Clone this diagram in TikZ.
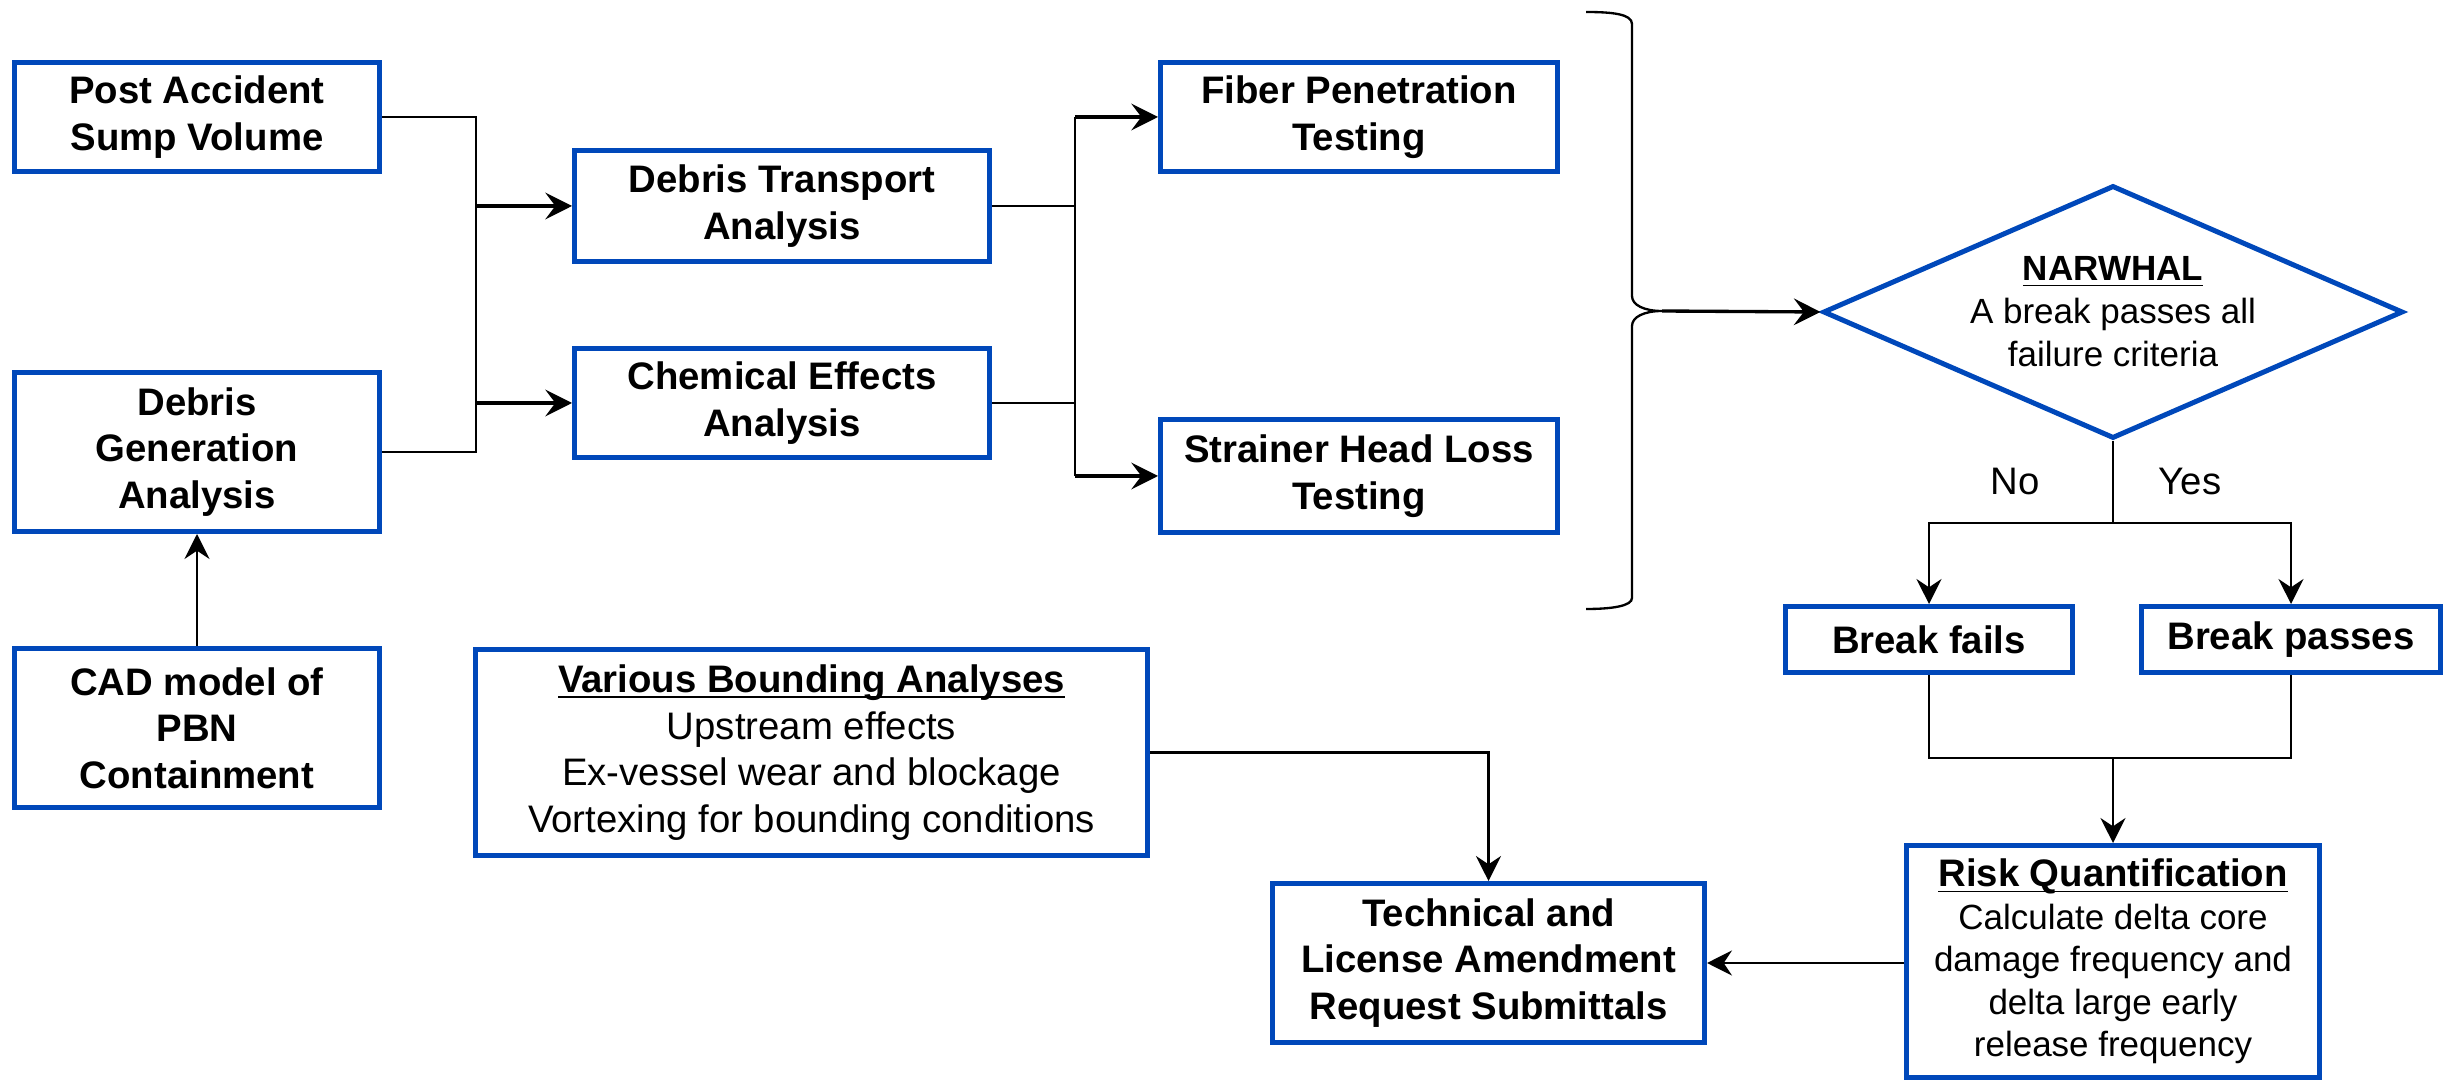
\documentclass[tikz,border=0pt]{standalone}
\usepackage{fontspec}
\setmainfont{Liberation Sans}
\usetikzlibrary{arrows.meta,shapes.geometric}
\definecolor{boxblue}{RGB}{0,72,186}
\newcommand\ultext[1]{\underline{\raisebox{0pt}[\height][0pt]{#1}}}

\begin{document}
\begin{tikzpicture}[x=0.3pt, y=-0.3pt,
  box/.style={draw=boxblue, line width=1.5pt, align=center, inner sep=1pt, font=\bfseries\fontsize{11.5}{14}\selectfont},
  note/.style={box, font=\fontsize{11.5}{14}\selectfont},
  small/.style={box, font=\fontsize{10.5}{12.75}\selectfont},
  flowarrow/.style={line width=1pt, -{Stealth[length=8pt, width=8pt, inset=3pt]}},
  conn/.style={line width=0.7pt},
  connarrow/.style={conn, -{Stealth[length=7.5pt, width=7.5pt, inset=2.5pt]}}]
\useasboundingbox (0,0) rectangle (2445,1081);
\node[box, minimum width=109.5pt, minimum height=32.7pt] (post) at (197,117) {Post Accident\\Sump Volume};
\node[box, minimum width=109.5pt, minimum height=47.7pt] (debgen) at (197,452) {Debris\\Generation\\Analysis};
\node[box, minimum width=109.5pt, minimum height=47.7pt] (cad) at (197,728) {CAD model of\\PBN\\Containment};
\node[box, minimum width=124.5pt, minimum height=33.3pt] (transport) at (782,206) {Debris Transport\\Analysis};
\node[box, minimum width=124.5pt, minimum height=32.7pt] (chem) at (782,403) {Chemical Effects\\Analysis};
\node[box, minimum width=119.1pt, minimum height=32.7pt] (fiber) at (1359,117) {Fiber Penetration\\Testing};
\node[box, minimum width=119.1pt, minimum height=33.9pt] (strainer) at (1359,476) {Strainer Head Loss\\Testing};
\node[note, minimum width=201.6pt, minimum height=61.8pt] (bounding) at (811.5,752.5) {\ultext{\textbf{Various Bounding Analyses}}\\Upstream effects\\Ex-vessel wear and blockage\\Vortexing for bounding conditions};
\node[shape=diamond, draw=boxblue, line width=1.5pt, minimum width=174pt, minimum height=75.9pt, inner sep=0pt,
  label={[name=narwhaltext, align=center, font=\fontsize{10.5}{12.9}\selectfont]center:{\ultext{\textbf{NARWHAL}}\\A break passes all\\failure criteria}}] (narwhal) at (2113,312) {};
\node[font=\fontsize{11.5}{14}\selectfont] (no) at (2015,482) {No};
\node[font=\fontsize{11.5}{14}\selectfont] (yes) at (2190,482) {Yes};
\node[box, minimum width=86.1pt, minimum height=19.8pt] (fails) at (1929,639.5) {Break fails};
\node[box, minimum width=89.7pt, minimum height=19.8pt] (passes) at (2291,639.5) {Break passes};
\node[small, minimum width=123.9pt, minimum height=69.6pt] (risk) at (2113,961.5) {\ultext{\textbf{\fontsize{11.5}{12.75}\selectfont Risk Quantification}}\\Calculate delta core\\damage frequency and\\delta large early\\release frequency};
\node[box, minimum width=129.6pt, minimum height=47.7pt] (tech) at (1488.5,963) {Technical and\\License Amendment\\Request Submittals};
\draw[conn] (1586,12) .. controls (1612,12) and (1632,14) .. (1632,24) -- (1632,296) .. controls (1632,305) and (1644,311) .. (1662,311) .. controls (1644,311) and (1632,317) .. (1632,326) -- (1632,598) .. controls (1632,606) and (1612,609) .. (1586,609);
\coordinate (brtip) at (1662,311);
\coordinate (jl) at (476,0);
\coordinate (jr) at (1075,0);
\coordinate (split) at (2113,523);
\coordinate (merge) at (2113,758);
\draw[conn] (post.east) -- (post.east -| jl) -- (debgen.east -| jl) -- (debgen.east);
\draw[flowarrow] (transport.west -| jl) -- (transport.west);
\draw[flowarrow] (chem.west -| jl) -- (chem.west);
\draw[conn] (transport.east) -- (transport.east -| jr);
\draw[conn] (chem.east) -- (chem.east -| jr);
\draw[conn] (fiber.west -| jr) -- (strainer.west -| jr);
\draw[flowarrow] (fiber.west -| jr) -- (fiber.west);
\draw[flowarrow] (strainer.west -| jr) -- (strainer.west);
\draw[connarrow] (cad.north) -- (debgen.south);
\draw[flowarrow] (brtip) -- (narwhal.west);
\draw[conn] (narwhal.south) -- (split);
\draw[connarrow] (split) -| (fails.north);
\draw[connarrow] (split) -| (passes.north);
\draw[conn] (fails.south) |- (merge) -| (passes.south);
\draw[connarrow] (merge) -- (risk.north);
\draw[connarrow] (risk.west |- tech.east) -- (tech.east);
\draw[connarrow] (bounding.east) -| (tech.north);
\end{tikzpicture}
\end{document}
